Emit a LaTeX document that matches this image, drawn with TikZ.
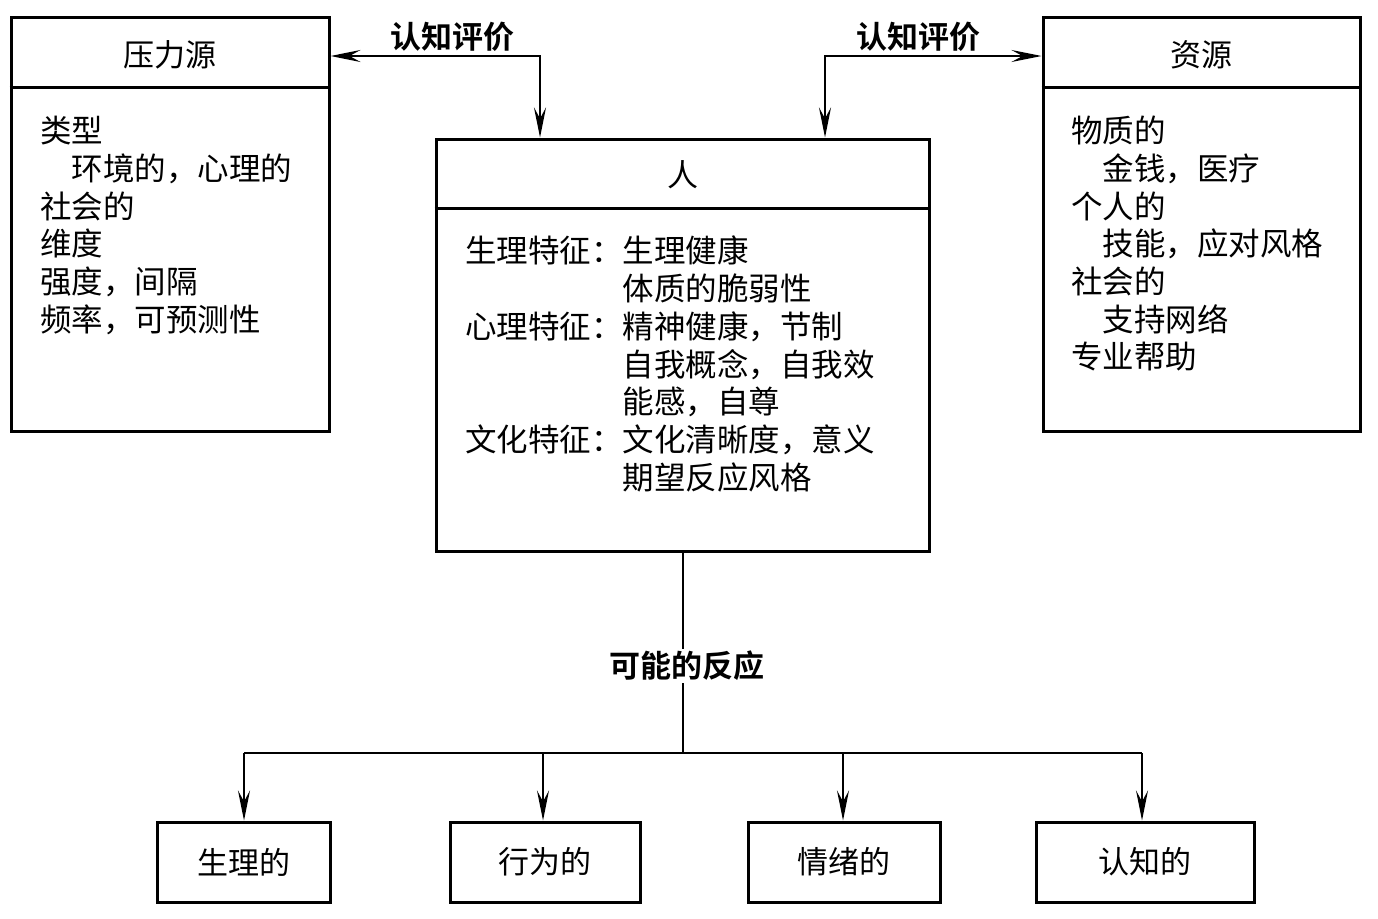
\documentclass[tikz,border=0pt]{standalone}
\usepackage{fontspec}
\setmainfont{Noto Sans CJK SC}[BoldFont={Noto Sans CJK SC Bold}]
\usetikzlibrary{arrows.meta}
\tikzset{
  box/.style={draw, line width=3pt, rectangle, inner sep=0pt},
  divline/.style={line width=3pt},
  conn/.style={line width=2pt},
  tip/.tip={Stealth[length=30pt,width=12pt,inset=11pt]},
  title/.style={inner sep=0pt, font=\fontsize{31}{31}\selectfont},
  body/.style={inner sep=0pt, align=left, anchor=north west, font=\fontsize{31.5}{37.7}\selectfont},
  lab/.style={inner sep=2pt, font=\fontsize{31}{31}\selectfont\bfseries},
}
\begin{document}
\begin{tikzpicture}[x=1pt,y=-1pt]
\useasboundingbox (0,0) rectangle (1378,918);

% main boxes
\node[box, minimum width=318, minimum height=414] (src) at (170,224) {};
\node[box, minimum width=493, minimum height=412] (per) at (682.5,345) {};
\node[box, minimum width=317, minimum height=414] (res) at (1201.5,224) {};

\coordinate (d1) at (0,87);
\coordinate (d2) at (0,208);
\draw[divline] (src.west |- d1) -- (src.east |- d1);
\draw[divline] (res.west |- d1) -- (res.east |- d1);
\draw[divline] (per.west |- d2) -- (per.east |- d2);

\node[title] (srct) at (170,55) {压力源};
\node[title] (rest) at (1201,55) {资源};
\node[title] (pert) at (683,175) {人};

\node[body] (srcb) at (40,116) {类型\\
\hspace{1em}环境的，心理的\\
社会的\\
维度\\
强度，间隔\\
频率，可预测性};

\node[body] (perb) at (465,236) {生理特征：生理健康\\
\hphantom{生理特征：}体质的脆弱性\\
心理特征：精神健康，节制\\
\hphantom{心理特征：}自我概念，自我效\\
\hphantom{心理特征：}能感，自尊\\
文化特征：文化清晰度，意义\\
\hphantom{文化特征：}期望反应风格};

\node[body] (resb) at (1071,116) {物质的\\
\hspace{1em}金钱，医疗\\
个人的\\
\hspace{1em}技能，应对风格\\
社会的\\
\hspace{1em}支持网络\\
专业帮助};

% appraisal arrows
\coordinate (a1) at (540,56);
\coordinate (a2) at (825,56);
\draw[conn, {tip}-{tip}] (a1 -| src.east) -| (a1 |- per.north);
\draw[conn, {tip}-{tip}] (a2 -| res.west) -| (a2 |- per.north);
\node[lab] (l1) at (452,37) {认知评价};
\node[lab] (l2) at (918,37) {认知评价};

% bottom boxes
\node[box, minimum width=173, minimum height=80] (b1) at (243.5,862) {};
\node[box, minimum width=190, minimum height=80] (b2) at (545,862) {};
\node[box, minimum width=192, minimum height=80] (b3) at (844,862) {};
\node[box, minimum width=218, minimum height=80] (b4) at (1145,862) {};
\node[title] (b1t) at (b1) {生理的};
\node[title] (b2t) at (b2) {行为的};
\node[title] (b3t) at (b3) {情绪的};
\node[title] (b4t) at (b4) {认知的};

\coordinate (hub) at (683,753);
\coordinate (h1) at (244,753);
\coordinate (h2) at (543,753);
\coordinate (h3) at (843,753);
\coordinate (h4) at (1142,753);
\draw[conn] (per.south -| hub) -- (hub);
\node[lab, fill=white] (l3) at (687,666) {可能的反应};
\draw[conn] (h1) -- (h4);
\draw[conn, -{tip}] (h1) -- (h1 |- b1.north);
\draw[conn, -{tip}] (h2) -- (h2 |- b2.north);
\draw[conn, -{tip}] (h3) -- (h3 |- b3.north);
\draw[conn, -{tip}] (h4) -- (h4 |- b4.north);
\end{tikzpicture}
\end{document}
